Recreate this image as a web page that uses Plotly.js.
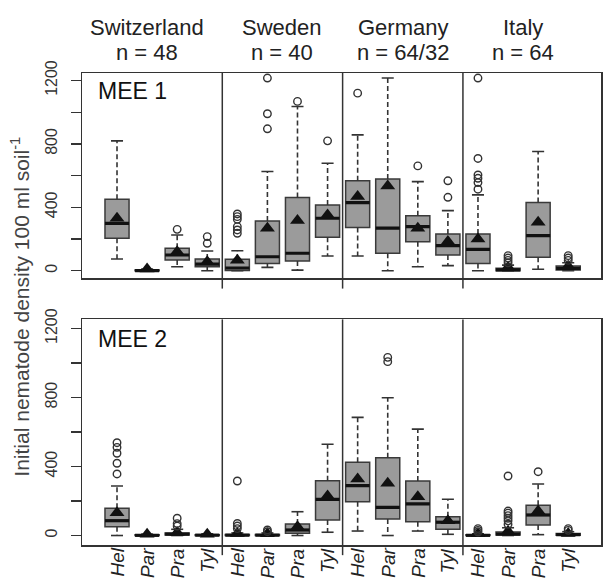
<!DOCTYPE html>
<html>
<head>
<meta charset="utf-8">
<script src="https://cdn.plot.ly/plotly-3.0.1.min.js"></script>
<style>
  html, body { margin: 0; padding: 0; background: #fff; }
  #chart { width: 603px; height: 581px; }
</style>
</head>
<body>
<div id="chart"></div>
<script>
// ---------- DATA ----------
const countries = ['Switzerland', 'Sweden', 'Germany', 'Italy'];
const sampleSizes = ['n = 48', 'n = 40', 'n = 64/32', 'n = 64'];
const genera = ['Hel', 'Par', 'Pra', 'Tyl'];
const panelNames = ['MEE 1', 'MEE 2'];

// MEE 1 (order: Switzerland Hel..Tyl, Sweden Hel..Tyl, Germany Hel..Tyl, Italy Hel..Tyl)
const mee1Lower  = [74, 0, 25, 0,    0, 21, 4, 93,     93, 0, 25, 32,     0, 0, 9, 0];
const mee1Q1     = [205, 0, 68, 25,  2, 46, 61, 211,   272, 110, 183, 99, 46, 0, 85, 5];
const mee1Median = [299, 1, 99, 42,  17, 88, 110, 331, 430, 268, 278, 158, 135, 5, 221, 15];
const mee1Q3     = [451, 4, 141, 74, 72, 314, 461, 415, 567, 579, 347, 232, 232, 15, 430, 30];
const mee1Upper  = [819, 10, 225, 124, 126, 626, 1036, 678, 857, 1215, 562, 379, 478, 35, 752, 50];
const mee1Mean   = [331, 10, 120, 57, 66, 268, 316, 352, 468, 535, 268, 185, 200, 22, 306, 28];
const mee1Outliers = [
  [], [], [261], [173, 215],
  [236, 257, 278, 324, 341, 358], [895, 990, 1215], [1068], [819],
  [1120], [], [661], [463, 567],
  [514, 556, 583, 604, 708, 1215], [50, 65, 80, 95], [], [65, 80, 95]
];

// MEE 2
const mee2Lower  = [0, 0, 0, 0,     0, 0, 0, 19,      26, 0, 26, 7,     0, 0, 5, 0];
const mee2Q1     = [51, 0, 3, 0,    0, 0, 13, 90,     196, 96, 80, 36,  0, 3, 61, 2];
const mee2Median = [86, 1, 8, 2,    2, 2, 32, 210,    289, 163, 183, 77, 1, 8, 119, 5];
const mee2Q3     = [158, 4, 15, 5,  6, 6, 67, 318,    424, 451, 316, 109, 4, 20, 175, 12];
const mee2Upper  = [287, 8, 36, 10, 15, 15, 138, 529, 685, 799, 617, 210, 10, 45, 299, 22];
const mee2Mean   = [132, 8, 18, 8,  12, 10, 51, 229,  328, 303, 225, 86,  10, 25, 142, 12];
const mee2Outliers = [
  [357, 419, 477, 511, 538], [], [55, 69, 100], [],
  [40, 55, 70, 316], [22, 32], [], [],
  [], [1008, 1033], [], [],
  [20, 30, 40], [65, 85, 100, 115, 130, 142, 345], [370], [30, 40]
];

const yTickLabels = [0, 400, 800, 1200];
const yMinorStep = 200;

// ---------- BUILD ----------
const positions = mee1Median.map((_, i) => i + 1);
const tickLabels = positions.map((_, i) => genera[i % genera.length]);
const boxHalf = 0.4;
const capHalf = 0.2;

const FILL = '#9b9b9b';
const EDGE = '#3a3a3a';
const FONT = 'Arial, "Liberation Sans", Helvetica, sans-serif';

function panelTraces(s, xa, ya) {
  const traces = [];
  traces.push({
    type: 'box', xaxis: xa, yaxis: ya,
    x: positions, q1: s.q1, median: s.median, q3: s.q3,
    lowerfence: s.q1, upperfence: s.q3,
    width: 2 * boxHalf, whiskerwidth: 0,
    fillcolor: FILL, line: { color: EDGE, width: 1.5 },
    boxpoints: false, hoverinfo: 'skip'
  });
  const wx = [], wy = [];
  const cx = [], cy = [];
  const mx = [], my = [];
  const ox = [], oy = [];
  positions.forEach((p, i) => {
    wx.push(p, p, null, p, p, null);
    wy.push(s.q3[i], s.upper[i], null, s.q1[i], s.lower[i], null);
    cx.push(p - capHalf, p + capHalf, null, p - capHalf, p + capHalf, null);
    cy.push(s.upper[i], s.upper[i], null, s.lower[i], s.lower[i], null);
    mx.push(p - boxHalf, p + boxHalf, null);
    my.push(s.median[i], s.median[i], null);
    s.out[i].forEach(v => { ox.push(p); oy.push(v); });
  });
  traces.push({ type: 'scatter', mode: 'lines', xaxis: xa, yaxis: ya, x: wx, y: wy,
    line: { color: '#333', width: 1.6, dash: '5px,3px' }, hoverinfo: 'skip' });
  traces.push({ type: 'scatter', mode: 'lines', xaxis: xa, yaxis: ya, x: cx, y: cy,
    line: { color: '#333', width: 1.6 }, hoverinfo: 'skip' });
  traces.push({ type: 'scatter', mode: 'lines', xaxis: xa, yaxis: ya, x: mx, y: my,
    line: { color: '#111', width: 3.2 }, hoverinfo: 'skip' });
  traces.push({ type: 'scatter', mode: 'markers', xaxis: xa, yaxis: ya, x: positions, y: s.mean,
    marker: { symbol: 'triangle-up', size: 13, color: '#111', line: { width: 0 } }, hoverinfo: 'skip' });
  traces.push({ type: 'scatter', mode: 'markers', xaxis: xa, yaxis: ya, x: ox, y: oy,
    marker: { symbol: 'circle-open', size: 7.5, color: '#333', line: { width: 1.4 } }, hoverinfo: 'skip' });
  return traces;
}

const statsMee1 = { lower: mee1Lower, q1: mee1Q1, median: mee1Median, q3: mee1Q3, upper: mee1Upper, mean: mee1Mean, out: mee1Outliers };
const statsMee2 = { lower: mee2Lower, q1: mee2Q1, median: mee2Median, q3: mee2Q3, upper: mee2Upper, mean: mee2Mean, out: mee2Outliers };

const data = [].concat(panelTraces(statsMee1, 'x2', 'y2'), panelTraces(statsMee2, 'x', 'y'));

const xRange = [-0.164, 17.09];
const axisLine = { showline: true, mirror: true, linecolor: '#333', linewidth: 1.5,
  showgrid: false, zeroline: false };

const yAxisCommon = Object.assign({}, axisLine, {
  tickmode: 'array', tickvals: yTickLabels, ticktext: yTickLabels.map(String),
  ticks: 'outside', ticklen: 10, tickwidth: 1.3, tickcolor: '#333',
  minor: { dtick: yMinorStep, tick0: 0, ticks: 'outside', ticklen: 10, tickwidth: 1.3, tickcolor: '#333', showgrid: false },
  ticklabelstandoff: 7,
  tickangle: -90, tickfont: { family: FONT, size: 16, color: '#333' }
});

const shapes = [];
const groupSize = genera.length;
for (let g = 1; g < countries.length; g++) {
  const xd = g * groupSize + 0.5;
  shapes.push({ type: 'line', xref: 'x2', yref: 'y2 domain', x0: xd, x1: xd, y0: -0.05, y1: 1,
    line: { color: '#333', width: 1.5 } });
  shapes.push({ type: 'line', xref: 'x', yref: 'y domain', x0: xd, x1: xd, y0: -0.045, y1: 1,
    line: { color: '#333', width: 1.5 } });
}

const annotations = [];
const headerShift = [-0.5, 0, 0, 0];
countries.forEach((c, g) => {
  const xc = g * groupSize + (groupSize + 1) / 2 + headerShift[g];
  annotations.push({ xref: 'x2', yref: 'paper', x: xc, y: 1 + 46 / 472, text: c,
    showarrow: false, xanchor: 'center', yanchor: 'middle',
    font: { family: FONT, size: 22, color: '#222' } });
  annotations.push({ xref: 'x2', yref: 'paper', x: xc, y: 1 + 21 / 472, text: sampleSizes[g],
    showarrow: false, xanchor: 'center', yanchor: 'middle',
    font: { family: FONT, size: 22, color: '#222' } });
});
// x category labels (rotated, end-aligned at the axis)
positions.forEach((p, i) => {
  annotations.push({ xref: 'x', yref: 'paper', x: p, y: -1 / 472, text: tickLabels[i],
    textangle: -90, showarrow: false, xanchor: 'center', yanchor: 'top',
    font: { family: FONT, size: 19, color: '#222', style: 'italic' } });
});
annotations.push({ xref: 'x2 domain', yref: 'y2 domain', x: 0.027, y: 0.91, text: panelNames[0],
  showarrow: false, xanchor: 'left', yanchor: 'middle', font: { family: FONT, size: 23, color: '#111' } });
annotations.push({ xref: 'x domain', yref: 'y domain', x: 0.027, y: 0.913, text: panelNames[1],
  showarrow: false, xanchor: 'left', yanchor: 'middle', font: { family: FONT, size: 23, color: '#111' } });
annotations.push({ xref: 'paper', yref: 'paper', x: -62 / 519, y: 0.505, textangle: -90,
  text: 'Initial nematode density 100 ml soil<sup>-1</sup>', showarrow: false,
  xanchor: 'center', yanchor: 'middle', font: { family: FONT, size: 21, color: '#444' } });

const layout = {
  width: 603, height: 581,
  margin: { l: 82, r: 2, t: 73, b: 36 },
  paper_bgcolor: '#fff', plot_bgcolor: '#fff',
  showlegend: false,
  xaxis: Object.assign({}, axisLine, {
    domain: [0, 1], anchor: 'y', range: xRange, automargin: false,
    showticklabels: false, ticks: ''
  }),
  xaxis2: Object.assign({}, axisLine, {
    domain: [0, 1], anchor: 'y2', range: xRange, showticklabels: false, ticks: ''
  }),
  yaxis: Object.assign({}, yAxisCommon, { domain: [0, 0.478], anchor: 'x', range: [-55, 1253], automargin: false }),
  yaxis2: Object.assign({}, yAxisCommon, { domain: [0.565, 1], anchor: 'x2', range: [-48, 1247], automargin: false }),
  shapes: shapes,
  annotations: annotations
};

Plotly.newPlot('chart', data, layout, { staticPlot: true, displayModeBar: false });
</script>
</body>
</html>
